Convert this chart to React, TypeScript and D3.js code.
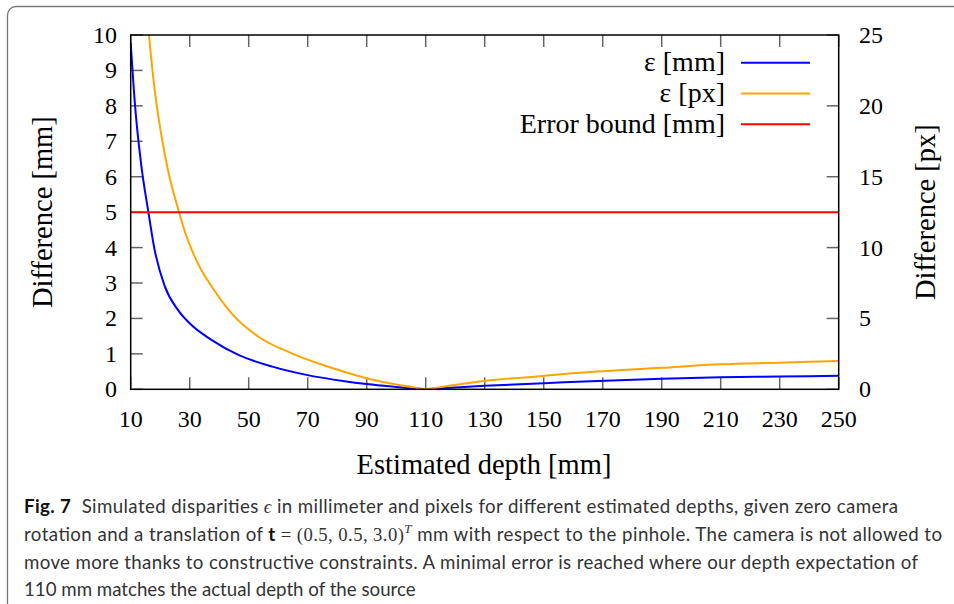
import React from 'react';
import * as d3 from 'd3';

// Values
const depthMm = [10, 11.5, 13.5, 16, 18, 21.5, 26, 30.5, 37.5, 46.5, 58, 70, 82.5, 90, 110, 130, 150, 166, 190, 210, 230, 250];
const epsMm = [9.77, 7.98, 6.38, 5.0, 3.98, 2.92, 2.24, 1.82, 1.39, 0.97, 0.64, 0.4, 0.23, 0.15, 0, 0.1, 0.17, 0.23, 0.3, 0.34, 0.36, 0.38];

const depthPx = [10, 13, 16.2, 18.2, 20.5, 22.7, 26.4, 28.4, 30.7, 34, 37.5, 44.2, 53.3, 64.6, 76, 82.6, 90, 110, 130, 150, 162, 190, 210, 230, 250];
const epsPx = [52, 34, 25.0, 21.0, 17.8, 15.4, 12.5, 11.1, 9.83, 8.4, 7.24, 5.36, 3.71, 2.54, 1.66, 1.22, 0.78, 0, 0.59, 0.94, 1.17, 1.52, 1.76, 1.88, 2.0];

const errorBound = 5;

const xTicks = [10, 30, 50, 70, 90, 110, 130, 150, 170, 190, 210, 230, 250];
const yLeftTicks = [0, 1, 2, 3, 4, 5, 6, 7, 8, 9, 10];
const yRightTicks = [0, 5, 10, 15, 20, 25];

const legendItems = [
  { label: 'ε [mm]', color: 'blue' },
  { label: 'ε [px]', color: 'orange' },
  { label: 'Error bound [mm]', color: 'red' },
];

const W = 954;
const H = 604;
const plot = { left: 130.7, right: 838.7, top: 35, bottom: 389.3 };

const serif = '"Liberation Serif", "Times New Roman", serif';
const sans = 'Lato, "Open Sans", sans-serif';

const x = d3.scaleLinear().domain([10, 250]).range([plot.left, plot.right]);
const yL = d3.scaleLinear().domain([0, 10]).range([plot.bottom, plot.top]);
const yR = d3.scaleLinear().domain([0, 25]).range([plot.bottom, plot.top]);

// draw each branch of the V separately so the minimum stays sharp
function vPath(xs: number[], ys: number[], yScale: d3.ScaleLinear<number, number>) {
  const pts = xs.map((d, i) => [d, ys[i]] as [number, number]);
  const minIdx = d3.minIndex(pts, p => p[1]);
  const line = d3.line<[number, number]>()
    .x(p => x(p[0]))
    .y(p => yScale(p[1]))
    .curve(d3.curveMonotoneX);
  return (line(pts.slice(0, minIdx + 1)) || '') + (line(pts.slice(minIdx)) || '');
}

export default function App() {
  const tickLen = 12;
  return (
    <svg width={W} height={H} style={{ position: 'absolute', left: 0, top: 0, background: '#fff' }}>
      <defs>
        <clipPath id="plotClip">
          <rect x={plot.left} y={plot.top} width={plot.right - plot.left} height={plot.bottom - plot.top} />
        </clipPath>
      </defs>

      {/* figure frame */}
      <path d={`M7.5,${H} V15 A8.5,8.5 0 0 1 16,6.5 H${W}`} fill="none" stroke="#777" strokeWidth={1.3} />

      {/* x ticks, bottom and top */}
      {xTicks.map(t => (
        <g key={'xt' + t}>
          <line x1={x(t)} x2={x(t)} y1={plot.bottom} y2={plot.bottom - tickLen} stroke="#666" strokeWidth={1.5} />
          <line x1={x(t)} x2={x(t)} y1={plot.top} y2={plot.top + tickLen} stroke="#666" strokeWidth={1.5} />
          <text x={x(t)} y={427} textAnchor="middle" fontFamily={serif} fontSize={24} fill="#000">{t}</text>
        </g>
      ))}

      {/* left ticks */}
      {yLeftTicks.map(t => (
        <g key={'yl' + t}>
          <line x1={plot.left} x2={plot.left + tickLen} y1={yL(t)} y2={yL(t)} stroke="#666" strokeWidth={1.5} />
          <text x={117} y={yL(t) + 8} textAnchor="end" fontFamily={serif} fontSize={24} fill="#000">{t}</text>
        </g>
      ))}

      {/* right ticks */}
      {yRightTicks.map(t => (
        <g key={'yr' + t}>
          <line x1={plot.right} x2={plot.right - tickLen} y1={yR(t)} y2={yR(t)} stroke="#666" strokeWidth={1.5} />
          <text x={859} y={yR(t) + 8} textAnchor="start" fontFamily={serif} fontSize={24} fill="#000">{t}</text>
        </g>
      ))}

      {/* curves */}
      <g clipPath="url(#plotClip)">
        <path d={vPath(depthMm, epsMm, yL)} fill="none" stroke="blue" strokeWidth={2} />
        <path d={vPath(depthPx, epsPx, yR)} fill="none" stroke="orange" strokeWidth={2} />
        <line x1={x(10)} x2={x(250)} y1={yL(errorBound)} y2={yL(errorBound)} stroke="red" strokeWidth={2} />
      </g>

      {/* axis frame */}
      <rect x={plot.left} y={plot.top} width={plot.right - plot.left} height={plot.bottom - plot.top}
        fill="none" stroke="#000" strokeWidth={1.5} />

      {/* legend */}
      {legendItems.map((d, i) => {
        const ly = 62.7 + i * 30.8;
        return (
          <g key={d.label}>
            <text x={725} y={ly + 8.5} textAnchor="end" fontFamily={serif} fontSize={28} fill="#000">{d.label}</text>
            <line x1={741} x2={810} y1={ly} y2={ly} stroke={d.color} strokeWidth={2} />
          </g>
        );
      })}

      {/* axis titles */}
      <text x={484} y={474} textAnchor="middle" fontFamily={serif} fontSize={28.5} fill="#000">Estimated depth [mm]</text>
      <text transform={`translate(52,${(plot.top + plot.bottom) / 2}) rotate(-90)`} textAnchor="middle"
        fontFamily={serif} fontSize={28.5} fill="#000">Difference [mm]</text>
      <text transform={`translate(935,${(plot.top + plot.bottom) / 2}) rotate(-90)`} textAnchor="middle"
        fontFamily={serif} fontSize={28.5} fill="#000">Difference [px]</text>

      {/* caption */}
      <g fontFamily={sans} fontSize={18.7} fill="#333">
        <text x={24} y={513} textLength={874} lengthAdjust="spacing">
          <tspan fontWeight="bold" fill="#111">Fig. 7</tspan>
          <tspan>{'\u00a0 Simulated disparities '}</tspan>
          <tspan fontFamily={serif} fontStyle="italic">ϵ</tspan>
          <tspan> in millimeter and pixels for different estimated depths, given zero camera</tspan>
        </text>
        <text x={24} y={541} textLength={918} lengthAdjust="spacing">
          <tspan>rotation and a translation of </tspan>
          <tspan fontWeight="bold" fill="#111">t</tspan>
          <tspan fontFamily={serif}>{' = (0.5, 0.5, 3.0)'}</tspan>
          <tspan fontFamily={serif} fontStyle="italic" fontSize={13} dy={-8}>T</tspan>
          <tspan dy={8}> mm with respect to the pinhole. The camera is not allowed to</tspan>
        </text>
        <text x={24} y={569} textLength={894} lengthAdjust="spacing">
          move more thanks to constructive constraints. A minimal error is reached where our depth expectation of
        </text>
        <text x={24} y={596}>110 mm matches the actual depth of the source</text>
      </g>
    </svg>
  );
}
